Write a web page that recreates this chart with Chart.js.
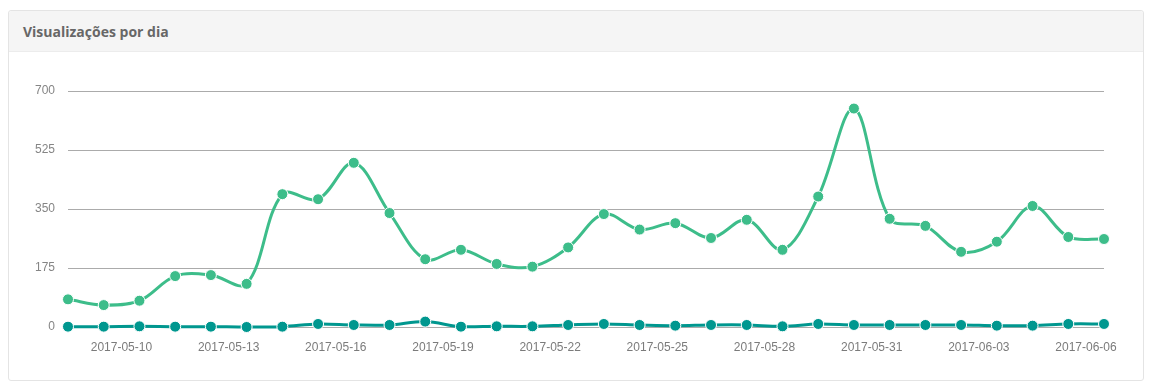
<!DOCTYPE html>
<html>
<head>
<meta charset="utf-8">
<script src="https://cdn.jsdelivr.net/npm/chart.js@4/dist/chart.umd.min.js"></script>
<style>
  html, body { margin: 0; padding: 0; background: #ffffff; width: 1152px; height: 388px; overflow: hidden; }
  #panel { position: absolute; left: 8px; top: 10px; width: 1134px; height: 369px; border: 1px solid #e4e4e4; border-radius: 3px; background: #fff; }
  #head { position: absolute; left: 0; top: 0; width: 100%; height: 40px; background: #f5f5f5; border-bottom: 1px solid #ececec; border-radius: 3px 3px 0 0; }
  #title { position: absolute; left: 14px; top: 11px; font-family: "Open Sans", sans-serif; font-weight: 700; font-size: 14px; color: #676767; }
  #wrap { position: absolute; left: 0; top: 50px; width: 1152px; height: 330px; }
</style>
</head>
<body>
<div id="panel"><div id="head"><div id="title">Visualizações por dia</div></div></div>
<div id="wrap"><canvas id="c"></canvas></div>
<script>
const categories = [
  "2017-05-08","2017-05-09","2017-05-10","2017-05-11","2017-05-12","2017-05-13","2017-05-14",
  "2017-05-15","2017-05-16","2017-05-17","2017-05-18","2017-05-19","2017-05-20","2017-05-21",
  "2017-05-22","2017-05-23","2017-05-24","2017-05-25","2017-05-26","2017-05-27","2017-05-28",
  "2017-05-29","2017-05-30","2017-05-31","2017-06-01","2017-06-02","2017-06-03","2017-06-04",
  "2017-06-05","2017-06-06"
];
const seriesTotal = [82, 65, 78, 151, 154, 128, 394, 379, 487, 338, 201, 229, 187, 179, 236,
  335, 289, 308, 264, 318, 229, 387, 648, 321, 300, 223, 253, 359, 267, 261];
const seriesSecond = [1, 1, 2, 1, 1, 0, 1, 9, 6, 6, 16, 1, 2, 2, 6,
  9, 6, 4, 6, 6, 2, 9, 6, 6, 6, 6, 4, 4, 9, 9];
const yTicks = [0, 175, 350, 525, 700];

const tickFont = { family: "'Liberation Sans', Arial, sans-serif", size: 12 };

new Chart(document.getElementById('c'), {
  type: 'line',
  data: {
    labels: categories,
    datasets: [
      {
        label: 'B',
        data: seriesSecond,
        borderColor: '#00978f',
        backgroundColor: '#00978f',
        pointBackgroundColor: '#00978f',
        pointBorderColor: '#ffffff',
        pointBorderWidth: 1,
        pointRadius: 5.5,
        borderWidth: 3,
        tension: 0.35,
        clip: false,
        fill: false
      },
      {
        label: 'A',
        data: seriesTotal,
        borderColor: '#3dbd8a',
        backgroundColor: '#3dbd8a',
        pointBackgroundColor: '#3dbd8a',
        pointBorderColor: '#ffffff',
        pointBorderWidth: 1,
        pointRadius: 5.5,
        borderWidth: 3,
        tension: 0.35,
        clip: false,
        fill: false
      }
    ]
  },
  options: {
    responsive: true,
    maintainAspectRatio: false,
    animation: false,
    layout: { padding: { left: 0, right: 48, top: 41, bottom: 0 } },
    plugins: { legend: { display: false }, tooltip: { enabled: false } },
    scales: {
      x: {
        offset: false,
        grid: { display: false, drawTicks: false },
        border: { display: false },
        afterFit: (s) => { s.height = 53; },
        ticks: {
          autoSkip: false,
          maxRotation: 0,
          minRotation: 0,
          padding: 13,
          labelOffset: -18,
          color: '#7b7b7b',
          font: tickFont,
          callback: function (v, i) { return i % 3 === 2 ? categories[i] : ''; }
        }
      },
      y: {
        min: yTicks[0],
        max: yTicks[yTicks.length - 1],
        afterBuildTicks: (s) => { s.ticks = yTicks.map(v => ({ value: v })); },
        afterFit: (s) => { s.width = 68; },
        grid: { color: '#ababab', lineWidth: 1, drawTicks: false },
        border: { display: false },
        ticks: {
          padding: 13,
          color: '#858585',
          font: tickFont
        }
      }
    }
  }
});
</script>
</body>
</html>
